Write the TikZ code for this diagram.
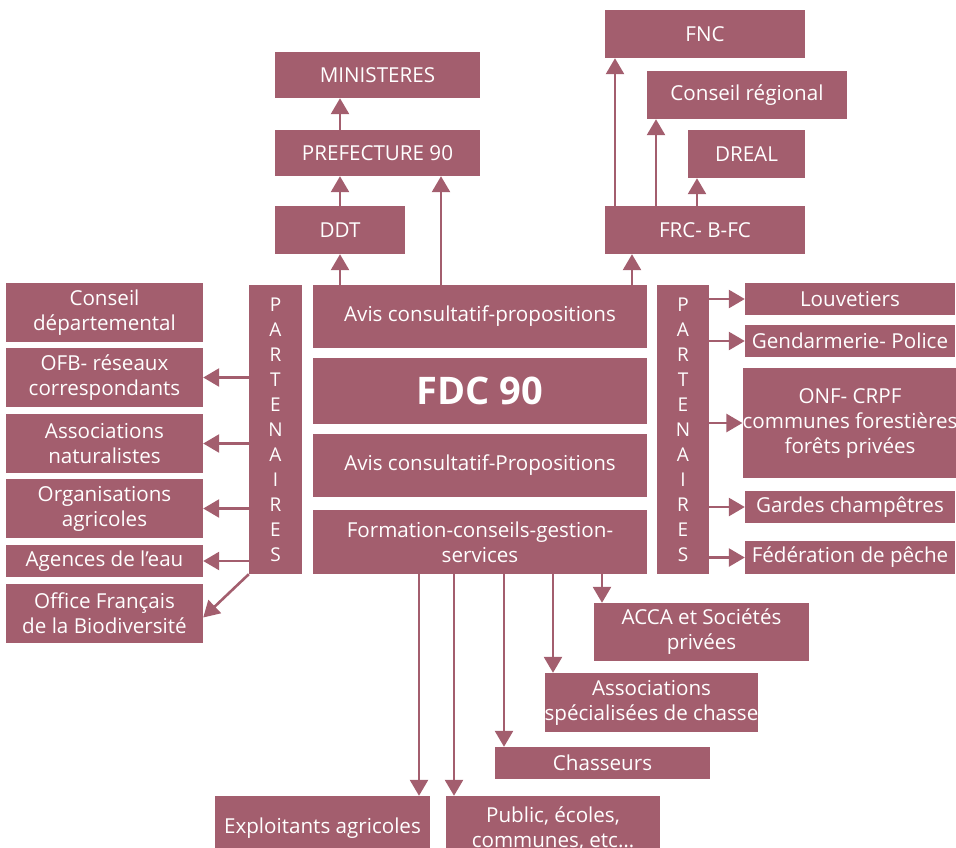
\documentclass[tikz,border=0pt]{standalone}
\usepackage{fontspec}
\setmainfont{Open Sans}
\usepackage{tikz}
\usetikzlibrary{arrows.meta,positioning}
\definecolor{fdcrose}{RGB}{163,94,110}

\begin{document}
\begin{tikzpicture}[x=1pt, y=-1pt, font=\fontsize{20.6}{25}\selectfont,
    box/.style={fill=fdcrose, text=white, align=center, inner sep=0pt},
    wh/.style 2 args={minimum width=#1pt, minimum height=#2pt},
    arrow/.style={-{Triangle[width=18pt,length=16pt]}, line width=2.6pt, draw=fdcrose}]
  \useasboundingbox (0,0) rectangle (956,847);

  % tutelle (top centre)
  \node[box, wh={205}{46}] (mini) at (377.5,75) {MINISTERES};
  \node[box, wh={205}{46}] (pref) at (377.5,153) {PREFECTURE 90};
  \node[box, wh={130}{48}] (ddt) at (340,230) {DDT};

  % regional / national (top right)
  \node[box, wh={200}{48}] (fnc) at (705,34) {FNC};
  \node[box, wh={200}{48}] (creg) at (747,95) {Conseil régional};
  \node[box, wh={117}{48}] (dreal) at (746.5,154) {DREAL};
  \node[box, wh={200}{48}] (frc) at (705,230) {FRC- B-FC};

  % federation
  \node[box, wh={334}{63}] (avisA) at (480,316.5) {Avis consultatif-propositions};
  \node[box, wh={334}{66}, font=\bfseries\fontsize{38}{46}\selectfont] (fdc) at (480,391) {FDC 90};
  \node[box, wh={334}{63}] (avisB) at (480,465.5) {Avis consultatif-Propositions};
  \node[box, wh={334}{64}] (form) at (480,542) {Formation-conseils-gestion-\\services};

  % partenaires columns
  \node[box, wh={53}{289}, font=\fontsize{19}{25}\selectfont] (partL) at (275.5,429.5)
    {P\\A\\R\\T\\E\\N\\A\\I\\R\\E\\S};
  \node[box, wh={52}{289}, font=\fontsize{19}{25}\selectfont] (partR) at (683,429.5)
    {P\\A\\R\\T\\E\\N\\A\\I\\R\\E\\S};

  % left partners
  \node[box, wh={197}{59}] (cdep) at (104.5,312.5) {Conseil\\départemental};
  \node[box, wh={197}{59}] (ofb) at (104.5,377.5) {OFB- réseaux\\correspondants};
  \node[box, wh={197}{59}] (assnat) at (104.5,443.5) {Associations\\naturalistes};
  \node[box, wh={197}{59}] (orga) at (104.5,508.5) {Organisations\\agricoles};
  \node[box, wh={197}{32}] (agen) at (104.5,561) {Agences de l’eau};
  \node[box, wh={197}{59}] (ofbio) at (104.5,613.5) {Office Français\\de la Biodiversité};

  % right partners
  \node[box, wh={210}{32}] (louv) at (850,299) {Louvetiers};
  \node[box, wh={210}{32}] (gend) at (850,341) {Gendarmerie- Police};
  \node[box, wh={210}{110}] (onf) at (850,423) {ONF- CRPF\\communes forestières\\forêts privées};
  \node[box, wh={210}{32}] (gardes) at (850,507) {Gardes champêtres};
  \node[box, wh={210}{33}] (fedp) at (850,557.5) {Fédération de pêche};

  % public reached
  \node[box, wh={215}{58}] (acca) at (701.5,632) {ACCA et Sociétés\\privées};
  \node[box, wh={213}{59}] (asspec) at (651.5,702.5) {Associations\\spécialisées de chasse};
  \node[box, wh={215}{32}] (chass) at (602.5,763) {Chasseurs};
  \node[box, wh={215}{64}] (expl) at (322.5,828) {Exploitants agricoles};
  \node[box, wh={214}{64}] (public) at (553,828) {Public, écoles,\\communes, etc…};

  % upward arrows
  \draw[arrow] (ddt |- avisA.north) -- (ddt.south);
  \draw[arrow] (ddt.north) -- (ddt.north |- pref.south);
  \draw[arrow] (ddt.north |- pref.north) -- (ddt.north |- mini.south);
  \draw[arrow] ([xshift=63.5pt]pref.south |- avisA.north) -- ([xshift=63.5pt]pref.south);
  \draw[arrow] ([xshift=-73pt]frc.south |- avisA.north) -- ([xshift=-73pt]frc.south);
  \foreach \dx/\t in {-90/fnc,-49/creg,-8/dreal}
    \draw[arrow] ([xshift=\dx pt]frc.north) -- ([xshift=\dx pt]frc.north |- \t.south);

  % partners arrows
  \foreach \t in {ofb,assnat,orga,agen}
    \draw[arrow] (partL.west |- \t) -- (\t.east);
  \draw[arrow] (partL.south west) -- ([yshift=-4pt]ofbio.east);
  \foreach \t in {louv,gend,onf,gardes,fedp}
    \draw[arrow] (partR.east |- \t) -- (\t.west);

  % downward arrows
  \foreach \dx/\t in {-61/expl,-26/public,24/chass,73/asspec,122/acca}
    \draw[arrow] ([xshift=\dx pt]form.south) -- ([xshift=\dx pt]form.south |- \t.north);
\end{tikzpicture}
\end{document}
